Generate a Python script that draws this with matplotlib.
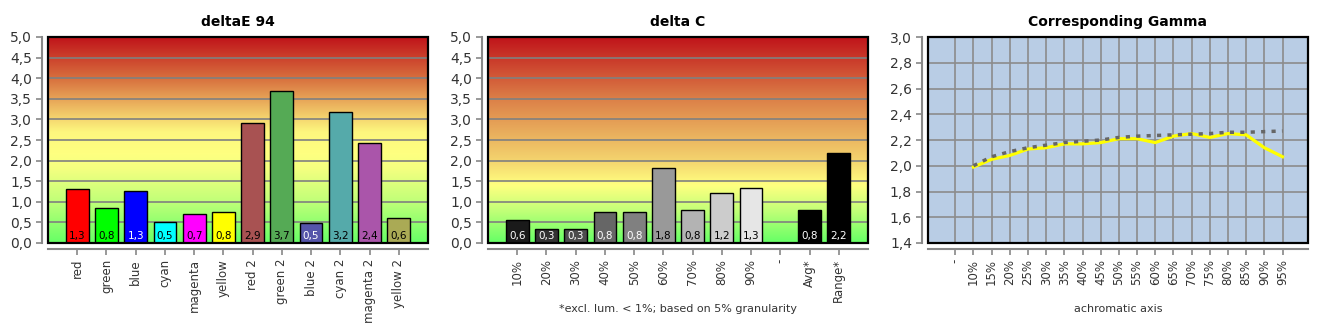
import numpy as np
import matplotlib
matplotlib.use("Agg")
import matplotlib.pyplot as plt
from matplotlib.colors import LinearSegmentedColormap
from matplotlib.patches import Rectangle

# deltaE 94
de_labels = ["red", "green", "blue", "cyan", "magenta", "yellow",
             "red 2", "green 2", "blue 2", "cyan 2", "magenta 2", "yellow 2"]
de_values = [1.30, 0.84, 1.27, 0.50, 0.71, 0.76, 2.92, 3.70, 0.48, 3.19, 2.43, 0.60]
de_colors = ["#ff0000", "#00ff00", "#0000ff", "#00ffff", "#ff00ff", "#ffff00",
             "#a85252", "#55aa55", "#5555aa", "#55aaaa", "#aa55aa", "#aaaa55"]
de_text = ["black", "black", "white", "black", "black", "black",
           "black", "black", "white", "black", "black", "black"]

# delta C
dc_labels = ["10%", "20%", "30%", "40%", "50%", "60%", "70%", "80%", "90%", "-", "Avg*", "Range*"]
dc_values = [0.57, 0.33, 0.34, 0.76, 0.76, 1.81, 0.81, 1.21, 1.33, np.nan, 0.81, 2.18]
dc_colors = ["#1a1a1a", "#333333", "#4d4d4d", "#666666", "#808080", "#999999",
             "#b3b3b3", "#cccccc", "#e6e6e6", "#ffffff", "#000000", "#000000"]
dc_text = ["white"] * 5 + ["black"] * 4 + ["black", "white", "white"]

# Corresponding Gamma
gm_labels = ["-", "10%", "15%", "20%", "25%", "30%", "35%", "40%", "45%", "50%",
             "55%", "60%", "65%", "70%", "75%", "80%", "85%", "90%", "95%"]
gm_actual = [np.nan, 1.99, 2.05, 2.08, 2.13, 2.14, 2.17, 2.17, 2.18, 2.21,
             2.21, 2.18, 2.23, 2.25, 2.22, 2.25, 2.24, 2.14, 2.07]
gm_target = [np.nan, 2.00, 2.07, 2.11, 2.14, 2.16, 2.18, 2.19, 2.20, 2.22,
             2.23, 2.235, 2.24, 2.245, 2.25, 2.26, 2.26, 2.265, 2.27]

fmt = lambda v: f"{v:.1f}".replace(".", ",")
TICK_COL = "#333333"
AXIS_GRAY = "#888888"

fig = plt.figure(figsize=(13.3, 3.3), dpi=100)
W, H = 1330, 330


def make_ax(left_px):
    ax = fig.add_axes([left_px / W, 87 / H, 380 / W, 206 / H])
    for s in ["top", "right"]:
        ax.spines[s].set_visible(False)
    for s in ["left", "bottom"]:
        ax.spines[s].set_color(AXIS_GRAY)
        ax.spines[s].set_linewidth(1.5)
        ax.spines[s].set_position(("outward", 4))
    ax.add_patch(Rectangle((0, 0), 1, 1, transform=ax.transAxes, fill=False,
                           ec="black", lw=1.6, zorder=5, clip_on=False))
    ax.tick_params(axis="both", colors=AXIS_GRAY, length=4, width=1.2)
    ax.tick_params(axis="y", labelcolor=TICK_COL, labelsize=10)
    ax.tick_params(axis="x", labelcolor=TICK_COL, labelsize=8.5, labelrotation=90)
    return ax


def gradient(ax, stops, ymax):
    cmap = LinearSegmentedColormap.from_list(
        "g", [(v / ymax, c) for v, c in stops])
    grad = np.linspace(0, 1, 256).reshape(-1, 1)
    ax.imshow(grad, cmap=cmap, origin="lower", aspect="auto",
              extent=[0, 13, 0, ymax], zorder=0)


def bar_panel(ax, labels, values, colors, tcols, stops, title):
    x = np.arange(1, len(labels) + 1)
    gradient(ax, stops, 5.0)
    ax.set_xlim(0, 13)
    ax.set_ylim(0, 5)
    ax.set_yticks(np.arange(0, 5.01, 0.5))
    ax.set_yticklabels([fmt(v) for v in np.arange(0, 5.01, 0.5)])
    ax.grid(axis="y", color="#808080", lw=1.2, zorder=1)
    ax.set_axisbelow(False)
    ax.bar(x, values, width=0.78, color=colors, edgecolor="black", lw=1, zorder=3)
    for xi, v, tc in zip(x, values, tcols):
        if np.isnan(v):
            continue
        ax.text(xi, 0.16, fmt(v), ha="center", va="center", fontsize=7.5,
                color=tc, zorder=4)
    ax.set_xticks(x)
    ax.set_xticklabels(labels)
    ax.set_title(title, fontsize=10, fontweight="bold", pad=8)


ax1 = make_ax(48)
bar_panel(ax1, de_labels, de_values, de_colors, de_text,
          [(0, "#66ff66"), (1.0, "#c0ff78"), (1.8, "#f4ff80"), (2.2, "#ffff80"),
           (2.7, "#fdf67e"), (3.0, "#f6d870"), (4.0, "#d8703e"), (5.0, "#c0141a")],
          "deltaE 94")

ax2 = make_ax(488)
bar_panel(ax2, dc_labels, dc_values, dc_colors, dc_text,
          [(0, "#66ff66"), (0.8, "#c4ff78"), (1.4, "#ffff80"), (2.0, "#f4d46e"),
           (3.5, "#dc8048"), (5.0, "#c0141a")], "delta C")
ax2.text(0.5, -0.32, "*excl. lum. < 1%; based on 5% granularity", transform=ax2.transAxes,
         ha="center", va="center", fontsize=8, color=TICK_COL)

ax3 = make_ax(928)
ax3.set_facecolor("#b9cde5")
xg = np.arange(len(gm_labels))
ax3.set_xlim(-1.5, 19.4)
ax3.set_ylim(1.4, 3.0)
yt = np.arange(1.4, 3.001, 0.2)
ax3.set_yticks(yt)
ax3.set_yticklabels([fmt(v) for v in yt])
ax3.set_xticks(xg)
ax3.set_xticklabels(gm_labels)
ax3.grid(True, color="#8c8c8c", lw=1.2, zorder=1)
ax3.set_axisbelow(True)
ax3.plot(xg, gm_actual, color="#ffff00", lw=2.3, zorder=3)
ax3.plot(xg, gm_target, color="#666666", lw=2.5, ls=(0, (1.2, 1.8)), zorder=4)
ax3.set_title("Corresponding Gamma", fontsize=10, fontweight="bold", pad=8)
ax3.text(0.5, -0.32, "achromatic axis", transform=ax3.transAxes,
         ha="center", va="center", fontsize=8, color=TICK_COL)

fig.savefig("out.png", dpi=100)
